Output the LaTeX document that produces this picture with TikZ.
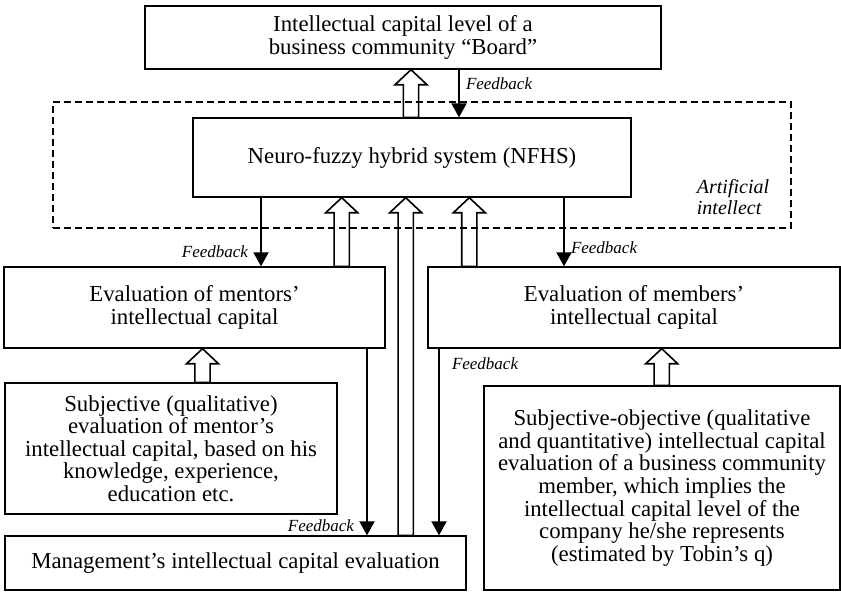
\documentclass[tikz,border=0pt]{standalone}
\usepackage{fontspec}
\setmainfont{Liberation Serif}
\usepackage{tikz}
\usetikzlibrary{arrows.meta, calc}

\newcommand{\hollowup}[2]{%
  \draw[hollow] let \p1=(#1), \p2=(#2) in
    (\x1-3.8pt,\y1) -- (\x1-3.8pt,\y2-7.5pt) -- (\x1-8pt,\y2-7.5pt) -- (\x1,\y2)
    -- (\x1+8pt,\y2-7.5pt) -- (\x1+3.8pt,\y2-7.5pt) -- (\x1+3.8pt,\y1) -- cycle;}

\begin{document}
\begin{tikzpicture}[x=0.5pt, y=-0.5pt,
    box/.style={draw, line width=0.7pt, align=center, inner sep=1pt, font=\fontsize{11.4}{11.3}\selectfont},
    fb/.style={line width=1pt, -{Triangle[width=7.5pt, length=7pt]}},
    fbl/.style={inner sep=3pt, font=\fontsize{8.5}{9}\selectfont\itshape},
    hollow/.style={line width=0.8pt, line join=miter}]
                \useasboundingbox (0,0) rectangle (841,591);
                \node[draw, dashed, line width=1pt, dash pattern=on 3.5pt off 2pt, minimum width=369pt, minimum height=63pt] (ai) at (421.7,165) {};
                \node[align=left, inner sep=0pt, font=\fontsize{10}{10.5}\selectfont\itshape] (ailabel) at (733,197.5) {Artificial\\intellect};

                \node[box, minimum width=258pt, minimum height=31.5pt] (board) at (403,37.5) {Intellectual capital level of a\\business community “Board”};
                \node[box, minimum width=219pt, minimum height=39.5pt] (nfhs) at (412,157.5) {Neuro-fuzzy hybrid system (NFHS)};
                \node[box, minimum width=190.5pt, minimum height=40.5pt] (mentors) at (194.5,307.5) {Evaluation of mentors’\\intellectual capital};
                \node[box, minimum width=206pt, minimum height=40.5pt] (members) at (634,307.5) {Evaluation of members’\\intellectual capital};
                \node[box, minimum width=166pt, minimum height=65.5pt] (subj) at (171,448.5) {Subjective (qualitative)\\evaluation of mentor’s\\intellectual capital, based on his\\knowledge, experience,\\education etc.};
                \node[box, minimum width=230.5pt, minimum height=27pt] (mgmt) at (235.5,563) {Management’s intellectual capital evaluation};
                \node[box, minimum width=178pt, minimum height=102pt] (subjobj) at (662,488) {Subjective-objective (qualitative\\and quantitative) intellectual capital\\evaluation of a business community\\member, which implies the\\intellectual capital level of the\\company he/she represents\\(estimated by Tobin’s q)};

                \draw[fb] (459,0 |- board.south) -- node[fbl, right, pos=0.3] {Feedback} (459,0 |- nfhs.north);
                \draw[fb] (261,0 |- nfhs.south) -- node[fbl, left, pos=0.79, xshift=-3pt] {Feedback} (261,0 |- mentors.north);
                \draw[fb] (564,0 |- nfhs.south) -- node[fbl, right, pos=0.73] {Feedback} (564,0 |- members.north);
                \draw[fb] (367,0 |- mentors.south) -- node[fbl, left, pos=0.95, xshift=-3pt] {Feedback} (367,0 |- mgmt.north);
                \draw[fb] (439,0 |- members.south) -- node[fbl, right, pos=0.08, xshift=3pt] {Feedback} (439,0 |- mgmt.north);

                \hollowup{411,0 |- nfhs.north}{411,0 |- board.south}
                \hollowup{341.7,0 |- mentors.north}{341.7,0 |- nfhs.south}
                \hollowup{405.7,0 |- mgmt.north}{405.7,0 |- nfhs.south}
                \hollowup{469.3,0 |- members.north}{469.3,0 |- nfhs.south}
                \hollowup{202.5,0 |- subj.north}{202.5,0 |- mentors.south}
                \hollowup{661.7,0 |- subjobj.north}{661.7,0 |- members.south}
            \end{tikzpicture}
\end{document}
